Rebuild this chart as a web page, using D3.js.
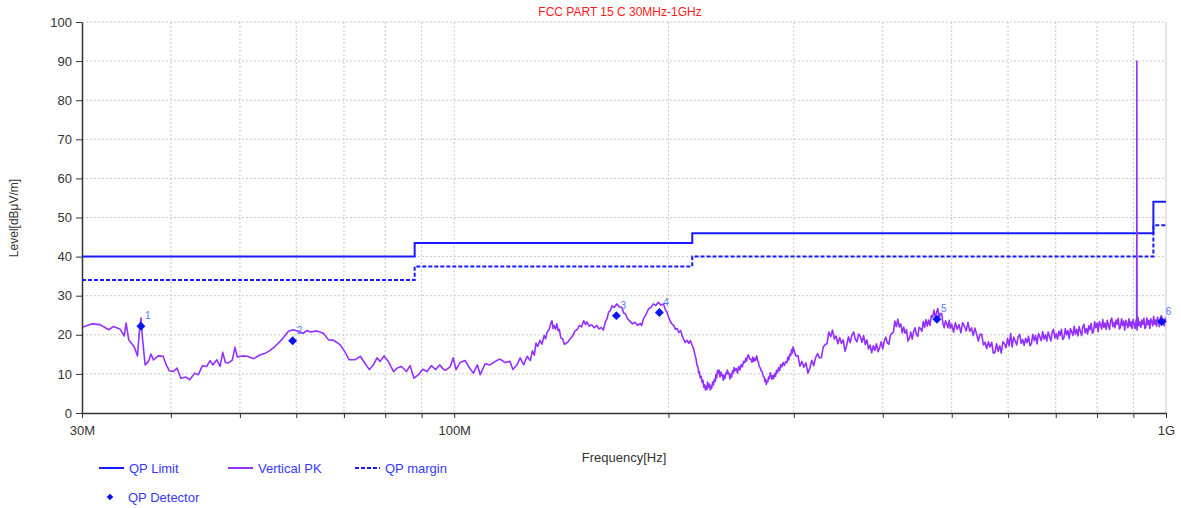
<!DOCTYPE html>
<html lang="en">
  <head>
    <meta charset="UTF-8" />
    <title>FCC PART 15 C 30MHz-1GHz</title>
    <script src="https://d3js.org/d3.v7.min.js"></script>
    <style>
      body {
        margin: 0;
        background: #fff;
      }
      svg {
        font-family: "Liberation Sans", Arial, sans-serif;
      }
      .grid line {
        stroke: #c8c8c8;
        stroke-dasharray: 2, 2;
      }
      .axis path,
      .axis line {
        stroke: #333;
      }
      .axis text {
        font-size: 13px;
        fill: #333;
      }
    </style>
  </head>
  <body>
    <div id="chart"></div>

    <script>
      // limit lines (MHz edges, dBuV/m)
      const limitEdges = [30, 88, 216, 960, 1000];
      const limitLevels = [40, 43.5, 46, 54];
      const marginLevels = [34, 37.5, 40, 48];

      // Vertical PK trace [MHz, dBuV/m]
      const verticalPK = [
        [30.1, 22.0], [31.0, 22.8], [31.8, 22.6], [32.7, 21.3], [33.2, 22.1], [33.9, 21.5], [34.4, 19.7], [34.6, 23.0],
        [34.9, 18.7], [35.5, 17.0], [35.9, 14.6], [36.1, 20.4], [36.3, 24.3], [36.5, 18.7], [36.8, 12.3], [37.2, 13.2],
        [37.5, 15.1], [37.8, 13.6], [38.4, 14.6], [39.0, 14.5], [39.4, 12.3], [39.8, 10.8], [40.3, 10.6], [40.8, 11.5],
        [41.3, 8.9], [42.0, 9.2], [42.5, 8.5], [43.2, 10.2], [43.7, 9.8], [44.3, 12.1], [44.9, 11.9], [45.4, 13.4],
        [45.8, 12.3], [46.4, 13.6], [46.9, 11.9], [47.3, 15.5], [47.7, 12.9], [48.2, 12.8], [48.8, 13.6], [49.2, 16.8],
        [49.6, 14.3], [50.4, 14.6], [51.2, 14.5], [52.3, 13.9], [53.4, 14.9], [54.3, 15.3], [55.0, 15.9], [56.0, 17.0],
        [57.2, 18.7], [58.5, 20.9], [59.4, 21.3], [60.4, 20.9], [61.4, 20.4], [62.1, 21.1], [62.8, 20.7], [64.1, 21.0],
        [65.5, 20.4], [66.6, 18.7], [67.7, 18.6], [69.1, 17.5], [70.2, 15.7], [71.2, 13.6], [72.5, 13.6], [73.8, 14.5],
        [75.0, 12.6], [76.0, 11.1], [77.0, 12.3], [77.9, 14.1], [78.7, 13.2], [79.7, 14.6], [80.8, 13.2], [82.2, 10.6],
        [83.2, 11.5], [84.3, 11.9], [85.7, 10.6], [86.7, 12.1], [87.8, 8.9], [89.1, 9.8], [90.3, 11.2], [91.6, 10.6],
        [92.9, 12.1], [94.2, 11.1], [95.4, 12.3], [96.7, 11.1], [97.2, 10.9], [98.7, 11.8], [99.7, 14.1], [100.6, 11.1],
        [101.9, 12.9], [103.6, 13.4], [105.1, 11.5], [106.4, 10.2], [107.8, 12.3], [108.8, 9.8], [110.5, 12.6], [112.3, 12.3],
        [114.2, 13.2], [116.0, 13.8], [117.9, 12.9], [119.8, 13.2], [120.9, 11.1], [122.5, 12.3], [123.8, 14.1], [125.2, 12.3],
        [126.6, 14.5], [127.9, 13.4], [128.8, 15.9], [129.6, 14.8], [130.3, 17.9], [131.0, 17.0], [132.0, 18.6], [132.8, 17.6],
        [133.8, 19.8], [134.4, 19.0], [135.0, 20.6], [136.0, 21.4], [136.6, 22.8], [137.2, 23.6], [137.7, 21.6], [138.2, 22.4],
        [138.8, 21.4], [139.4, 22.8], [140.0, 21.0], [140.5, 21.4], [141.2, 19.2], [142.0, 19.0], [142.8, 17.6], [143.6, 17.8],
        [144.5, 18.2], [145.5, 19.0], [146.6, 19.6], [147.8, 21.0], [148.8, 21.3], [150.0, 22.4], [151.0, 22.0], [152.0, 23.6],
        [153.0, 22.6], [153.6, 23.3], [154.8, 22.2], [156.0, 22.6], [157.3, 21.8], [158.6, 22.4], [159.8, 21.5], [161.0, 21.9],
        [162.0, 21.2], [163.0, 23.2], [164.0, 24.2], [164.8, 25.8], [165.7, 26.2], [166.6, 27.4], [167.8, 27.0], [169.2, 27.9],
        [170.5, 27.2], [172.0, 27.0], [173.0, 25.6], [174.0, 25.4], [175.3, 24.0], [176.6, 23.5], [178.0, 22.8], [179.5, 23.2],
        [181.0, 22.4], [182.5, 22.9], [183.4, 22.4], [184.4, 24.0], [186.0, 25.2], [187.5, 26.6], [189.0, 27.0], [190.4, 27.9],
        [192.0, 27.5], [193.6, 28.3], [195.2, 27.6], [196.8, 27.9], [198.0, 26.4], [199.0, 25.8], [200.0, 24.6], [201.0, 23.6],
        [202.2, 22.8], [203.4, 22.4], [204.6, 21.4], [205.7, 21.6], [206.8, 20.6], [208.0, 21.1], [209.0, 19.8], [210.0, 18.9],
        [211.2, 18.0], [212.5, 18.6], [213.6, 17.8], [214.7, 18.5], [216.0, 17.2], [217.0, 16.4], [217.8, 15.0], [218.7, 13.8],
        [219.3, 12.2], [220.0, 11.9], [220.5, 10.2], [221.0, 10.6], [221.6, 9.0], [222.3, 9.4], [223.0, 7.8], [223.6, 8.4],
        [224.2, 6.6], [224.8, 7.2], [225.4, 5.9], [226.0, 6.8], [226.5, 6.0], [227.0, 7.9], [227.7, 6.6], [228.4, 7.4],
        [229.0, 5.9], [229.5, 6.9], [230.0, 6.3], [230.7, 7.9], [231.4, 7.2], [232.0, 8.6], [232.7, 8.1], [233.2, 9.8],
        [233.8, 9.0], [234.4, 10.9], [235.0, 10.2], [235.6, 11.0], [236.3, 9.2], [237.0, 10.5], [237.6, 9.6], [238.2, 9.8],
        [238.8, 8.4], [239.4, 9.6], [240.0, 8.8], [240.7, 10.2], [241.4, 10.0], [242.0, 11.0], [242.7, 10.0], [243.3, 10.2],
        [244.0, 8.7], [244.7, 9.9], [245.4, 9.2], [246.0, 10.8], [246.7, 10.2], [247.3, 11.6], [248.0, 10.8], [249.0, 11.4],
        [250.0, 10.2], [251.0, 11.9], [252.0, 11.0], [253.0, 12.4], [254.0, 11.8], [255.0, 13.2], [256.0, 12.9], [256.8, 14.0],
        [257.5, 13.3], [258.2, 14.4], [259.0, 14.9], [260.0, 13.8], [261.0, 13.8], [262.0, 13.0], [262.7, 14.3], [263.5, 13.2],
        [264.3, 14.0], [265.0, 13.4], [266.0, 14.6], [266.8, 13.5], [267.5, 13.0], [268.2, 12.0], [269.0, 11.6], [270.0, 10.8],
        [270.8, 10.6], [271.7, 9.4], [272.6, 9.2], [273.3, 8.0], [274.0, 8.6], [274.5, 7.3], [275.0, 8.0], [275.8, 8.0],
        [276.5, 9.2], [277.2, 8.8], [278.0, 10.3], [278.8, 9.5], [279.5, 8.6], [280.3, 9.6], [281.0, 8.8], [282.0, 10.1],
        [282.8, 9.4], [283.7, 10.9], [284.6, 10.3], [285.6, 11.6], [286.6, 10.9], [287.6, 12.4], [288.7, 11.8], [289.8, 12.9],
        [291.0, 12.2], [292.2, 13.1], [293.4, 12.9], [294.3, 14.3], [295.2, 13.6], [296.1, 15.0], [297.0, 14.7], [297.8, 16.2],
        [298.6, 15.3], [299.3, 16.9], [300.0, 16.3], [302, 14.6], [304, 14.7], [306, 12.0], [308, 13.2], [310, 11.7],
        [312, 12.8], [314, 10.2], [316, 11.5], [318, 13.5], [320, 12.1], [322, 14.2], [324, 15.2], [326, 14.1],
        [328, 14.2], [330, 16.9], [332, 17.5], [334, 17.7], [336, 20.7], [338, 19.5], [340, 21.2], [342, 18.9],
        [344, 19.7], [346, 17.7], [348, 19.3], [350, 17.8], [352, 18.7], [354, 15.8], [356, 17.3], [358, 19.5],
        [360, 18.0], [362, 19.9], [364, 20.7], [366, 18.9], [368, 18.2], [370, 20.2], [372, 19.6], [374, 18.1],
        [376, 19.8], [378, 17.5], [380, 18.7], [382, 16.4], [384, 17.4], [386, 15.4], [388, 17.2], [390, 16.0],
        [392, 17.7], [394, 15.7], [396, 16.7], [398, 18.2], [400, 16.4], [402, 18.4], [404, 19.4], [406, 17.9],
        [408, 17.6], [410, 19.9], [412, 20.4], [414, 20.6], [416, 23.5], [418, 22.1], [420, 24.0], [422, 22.0],
        [424, 22.8], [426, 20.5], [428, 22.0], [430, 20.4], [432, 21.3], [434, 18.4], [436, 19.1], [438, 20.7],
        [440, 18.9], [442, 20.8], [444, 21.8], [446, 20.1], [448, 19.6], [450, 21.9], [452, 21.6], [454, 20.9],
        [456, 23.4], [458, 21.9], [460, 23.9], [462, 22.2], [464, 23.8], [466, 22.4], [468, 24.9], [470, 24.4],
        [472, 26.3], [474, 24.5], [476, 25.7], [478, 26.7], [480, 24.2], [482, 25.5], [484, 25.4], [486, 22.9],
        [488, 21.8], [490, 23.6], [492, 22.9], [494, 21.8], [496, 23.7], [498, 21.6], [500, 22.7], [503, 20.7],
        [506, 23.1], [509, 21.4], [512, 22.6], [515, 20.5], [518, 23.1], [521, 22.2], [524, 21.0], [527, 23.2],
        [530, 20.9], [533, 21.8], [536, 19.8], [539, 21.7], [542, 20.1], [545, 18.4], [548, 20.1], [551, 20.1],
        [554, 17.4], [557, 18.1], [560, 16.5], [563, 18.2], [566, 16.9], [569, 18.1], [572, 15.3], [575, 15.5],
        [578, 17.7], [581, 15.8], [584, 17.2], [587, 15.3], [590, 18.2], [593, 17.7], [596, 16.7], [599, 19.1],
        [602, 17.2], [605, 20.3], [608, 16.9], [611, 19.4], [614, 18.4], [617, 17.4], [620, 19.6], [623, 20.1],
        [626, 17.8], [629, 18.8], [632, 17.3], [635, 19.1], [638, 18.0], [641, 19.6], [644, 17.2], [647, 17.7],
        [650, 20.1], [653, 18.5], [656, 19.8], [659, 17.7], [662, 20.3], [665, 19.5], [668, 18.5], [671, 20.8],
        [674, 18.9], [677, 20.0], [680, 18.4], [683, 20.7], [686, 19.6], [689, 18.4], [692, 20.7], [695, 21.4],
        [698, 19.2], [701, 20.3], [704, 18.9], [707, 20.9], [710, 19.8], [713, 21.4], [716, 18.8], [719, 19.3],
        [722, 21.6], [725, 20.0], [728, 21.1], [731, 19.0], [734, 21.6], [737, 20.8], [740, 19.8], [743, 22.2],
        [746, 20.2], [749, 21.4], [752, 19.7], [755, 22.1], [758, 20.9], [761, 19.8], [764, 22.0], [767, 22.7],
        [770, 20.5], [773, 21.6], [776, 20.2], [779, 22.3], [782, 21.3], [785, 22.9], [788, 20.4], [791, 20.9],
        [794, 23.3], [797, 21.8], [800, 23.0], [803, 20.8], [806, 23.4], [809, 22.6], [812, 21.5], [815, 23.9],
        [818, 21.9], [821, 23.0], [824, 21.4], [827, 23.7], [830, 22.5], [833, 21.4], [836, 23.6], [839, 24.3],
        [842, 22.1], [845, 23.2], [848, 21.8], [851, 23.8], [854, 22.7], [857, 24.2], [860, 21.5], [863, 21.9],
        [866, 24.1], [869, 22.4], [872, 23.5], [875, 21.2], [878, 23.7], [881, 22.8], [884, 21.8], [887, 24.1],
        [890, 22.2], [893, 23.3], [896, 21.6], [899, 23.9], [902, 22.8], [905, 21.6], [908, 23.8], [909.5, 22.0],
        [910, 90.0], [910.5, 21.2], [913, 24.5], [916, 22.3], [919, 23.3], [922, 21.9], [925, 23.8], [928, 22.7],
        [931, 24.2], [934, 21.6], [937, 22.0], [940, 24.3], [943, 22.6], [946, 23.7], [949, 21.6], [952, 24.1],
        [955, 23.4], [958, 22.3], [961, 24.7], [964, 22.7], [967, 23.8], [970, 22.2], [973, 24.5], [976, 23.3],
        [979, 22.1], [982, 24.3], [985, 24.9], [988, 22.7], [991, 23.7], [994, 22.3], [997, 24.2], [1000, 23.1],
      ];

      // QP detector readings
      const qpFreq = [36.3, 59.3, 169, 194.2, 476.6, 986];
      const qpLevel = [22.2, 18.5, 24.9, 25.7, 24.0, 23.4];
      const qpLabels = ["1", "2", "3", "4", "5", "6"];

      // axis ticks
      const yTicks = [0, 10, 20, 30, 40, 50, 60, 70, 80, 90, 100];
      const xTicks = [30, 40, 50, 60, 70, 80, 90, 100, 200, 300, 400, 500, 600, 700, 800, 900, 1000];
      const xTickText = { 30: "30M", 100: "100M", 1000: "1G" };

      const width = 1181;
      const height = 508;
      const plotLeft = 82,
        plotRight = 1166,
        plotTop = 22,
        plotBottom = 413;

      const blue = "#1a1aff";
      const purple = "#9230ff";

      const svg = d3.select("#chart").append("svg").attr("width", width).attr("height", height);

      const x = d3.scaleLog().domain([30, 1000]).range([plotLeft, plotRight]);
      const y = d3.scaleLinear().domain([0, 100]).range([plotBottom, plotTop]);

      // grid
      const grid = svg.append("g").attr("class", "grid");
      grid
        .selectAll(".h")
        .data(yTicks.slice(1))
        .enter()
        .append("line")
        .attr("x1", plotLeft)
        .attr("x2", plotRight)
        .attr("y1", (d) => y(d))
        .attr("y2", (d) => y(d));
      grid
        .selectAll(".v")
        .data(xTicks.slice(1, -1))
        .enter()
        .append("line")
        .attr("x1", (d) => x(d))
        .attr("x2", (d) => x(d))
        .attr("y1", plotTop)
        .attr("y2", plotBottom);

      svg
        .append("line")
        .attr("x1", plotRight)
        .attr("x2", plotRight)
        .attr("y1", plotTop)
        .attr("y2", plotBottom)
        .attr("stroke", "#c8c8c8");

      // axes
      const yAxis = d3.axisLeft(y).tickValues(yTicks).tickSize(6).tickPadding(4).tickSizeOuter(0);
      svg.append("g").attr("class", "axis").attr("transform", `translate(${plotLeft},0)`).call(yAxis);

      const xAxis = d3
        .axisBottom(x)
        .tickValues(xTicks)
        .tickFormat((d) => xTickText[d] || "")
        .tickSize(5)
        .tickPadding(8)
        .tickSizeOuter(0);
      svg.append("g").attr("class", "axis").attr("transform", `translate(0,${plotBottom})`).call(xAxis);
      svg.selectAll(".axis .domain").attr("stroke-width", 1.5);

      // limit + margin step lines
      const stepLine = d3
        .line()
        .x((d) => x(d[0]))
        .y((d) => y(d[1]))
        .curve(d3.curveStepAfter);
      const stepPoints = (levels) => limitEdges.map((f, i) => [f, levels[Math.min(i, levels.length - 1)]]);

      svg
        .append("path")
        .attr("d", stepLine(stepPoints(marginLevels)))
        .attr("fill", "none")
        .attr("stroke", blue)
        .attr("stroke-width", 2)
        .attr("stroke-dasharray", "4,2");

      svg
        .append("path")
        .attr("d", stepLine(stepPoints(limitLevels)))
        .attr("fill", "none")
        .attr("stroke", blue)
        .attr("stroke-width", 2);

      // trace
      const traceLine = d3
        .line()
        .x((d) => x(d[0]))
        .y((d) => y(d[1]));
      svg
        .append("path")
        .attr("d", traceLine(verticalPK))
        .attr("fill", "none")
        .attr("stroke", purple)
        .attr("stroke-width", 1.6)
        .attr("stroke-linejoin", "round");

      // QP markers
      const diamond = d3.symbol().type(d3.symbolSquare).size(40);
      qpFreq.forEach((f, i) => {
        svg
          .append("path")
          .attr("d", diamond())
          .attr("fill", "#0a14f0")
          .attr("transform", `translate(${x(f)},${y(qpLevel[i])}) rotate(45)`);
        svg
          .append("text")
          .attr("x", x(f) + 4)
          .attr("y", y(qpLevel[i]) - 7)
          .attr("font-size", "10px")
          .attr("fill", "#5577ff")
          .text(qpLabels[i]);
      });

      // titles
      svg
        .append("text")
        .attr("x", 620)
        .attr("y", 16)
        .attr("text-anchor", "middle")
        .attr("font-size", "12px")
        .attr("fill", "#ff1a1a")
        .text("FCC PART 15 C 30MHz-1GHz");

      svg
        .append("text")
        .attr("transform", "translate(18,218) rotate(-90)")
        .attr("text-anchor", "middle")
        .attr("font-size", "12px")
        .attr("fill", "#333")
        .text("Level[dBμV/m]");

      svg
        .append("text")
        .attr("x", 624)
        .attr("y", 462)
        .attr("text-anchor", "middle")
        .attr("font-size", "13px")
        .attr("fill", "#333")
        .text("Frequency[Hz]");

      // legend
      const legendItems = [
        { name: "QP Limit", color: blue, dash: null, x: 99, y: 468 },
        { name: "Vertical PK", color: purple, dash: null, x: 228, y: 468 },
        { name: "QP margin", color: blue, dash: "4,2", x: 355, y: 468 },
      ];
      const legend = svg.append("g").attr("font-size", "13px");
      legendItems.forEach((d) => {
        legend
          .append("line")
          .attr("x1", d.x)
          .attr("x2", d.x + 25)
          .attr("y1", d.y)
          .attr("y2", d.y)
          .attr("stroke", d.color)
          .attr("stroke-width", 2)
          .attr("stroke-dasharray", d.dash);
        legend
          .append("text")
          .attr("x", d.x + 30)
          .attr("y", d.y + 4.5)
          .attr("fill", "#3838ff")
          .text(d.name);
      });
      legend
        .append("path")
        .attr("d", d3.symbol().type(d3.symbolSquare).size(22)())
        .attr("fill", "#0a14f0")
        .attr("transform", "translate(110,497) rotate(45)");
      legend.append("text").attr("x", 128).attr("y", 501.5).attr("fill", "#3838ff").text("QP Detector");
    </script>
  </body>
</html>
